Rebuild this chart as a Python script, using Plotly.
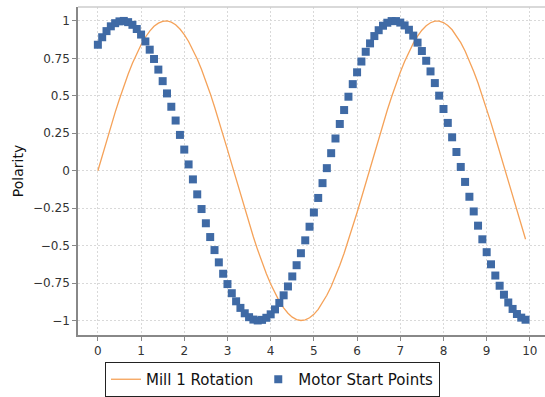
import plotly.graph_objects as go

x_vals = [round(i * 0.1, 1) for i in range(100)]

mill_rotation = [
    0.000, 0.100, 0.199, 0.296, 0.389, 0.479, 0.565, 0.644, 0.717, 0.783,
    0.841, 0.891, 0.932, 0.964, 0.985, 0.997, 1.000, 0.992, 0.974, 0.946,
    0.909, 0.863, 0.808, 0.746, 0.675, 0.598, 0.516, 0.427, 0.335, 0.239,
    0.141, 0.042, -0.058, -0.158, -0.256, -0.351, -0.443, -0.530, -0.612, -0.688,
    -0.757, -0.818, -0.872, -0.916, -0.952, -0.978, -0.994, -1.000, -0.996, -0.982,
    -0.959, -0.926, -0.883, -0.832, -0.773, -0.706, -0.631, -0.551, -0.465, -0.374,
    -0.279, -0.182, -0.083, 0.017, 0.117, 0.215, 0.312, 0.405, 0.494, 0.578,
    0.657, 0.729, 0.794, 0.850, 0.899, 0.938, 0.968, 0.988, 0.999, 0.999,
    0.989, 0.970, 0.941, 0.902, 0.855, 0.799, 0.734, 0.663, 0.585, 0.501,
    0.412, 0.319, 0.223, 0.125, 0.025, -0.075, -0.174, -0.272, -0.367, -0.458,
]

motor_start = [
    0.841, 0.891, 0.932, 0.964, 0.985, 0.997, 1.000, 0.992, 0.974, 0.946,
    0.909, 0.863, 0.808, 0.746, 0.675, 0.598, 0.516, 0.427, 0.335, 0.239,
    0.141, 0.042, -0.058, -0.158, -0.256, -0.351, -0.443, -0.530, -0.612, -0.688,
    -0.757, -0.818, -0.872, -0.916, -0.952, -0.978, -0.994, -1.000, -0.996, -0.982,
    -0.959, -0.926, -0.883, -0.832, -0.773, -0.706, -0.631, -0.551, -0.465, -0.374,
    -0.279, -0.182, -0.083, 0.017, 0.117, 0.215, 0.312, 0.405, 0.494, 0.578,
    0.657, 0.729, 0.794, 0.850, 0.899, 0.938, 0.968, 0.988, 0.999, 0.999,
    0.989, 0.970, 0.941, 0.902, 0.855, 0.799, 0.734, 0.663, 0.585, 0.501,
    0.412, 0.319, 0.223, 0.125, 0.025, -0.075, -0.174, -0.272, -0.367, -0.458,
    -0.544, -0.625, -0.700, -0.768, -0.828, -0.880, -0.923, -0.957, -0.981, -0.995,
]

x_ticks = list(range(0, 11))
y_ticks = [-1, -0.75, -0.5, -0.25, 0, 0.25, 0.5, 0.75, 1]
y_tick_text = ["\u22121", "\u22120.75", "\u22120.5", "\u22120.25", "0", "0.25", "0.5", "0.75", "1"]

fig = go.Figure()
fig.add_trace(go.Scatter(
    x=x_vals, y=mill_rotation, mode="lines", name="Mill 1 Rotation",
    line=dict(color="#f5a259", width=1.3),
))
fig.add_trace(go.Scatter(
    x=x_vals, y=motor_start, mode="markers", name="Motor Start Points",
    marker=dict(symbol="square", size=8, color="#3f6aa5", line=dict(width=0)),
))

font_family = "DejaVu Sans, Lucida Grande, sans-serif"
fig.update_layout(
    width=545, height=397,
    margin=dict(l=78, r=0, t=7, b=62, autoexpand=False),
    paper_bgcolor="white", plot_bgcolor="white",
    font=dict(family=font_family, size=12, color="#333333"),
    showlegend=True,
    legend=dict(
        orientation="h", xref="container", yref="container",
        x=0.5, xanchor="center", y=1 - 362 / 397, yanchor="top",
        bordercolor="#222222", borderwidth=1, bgcolor="white",
        font=dict(size=15, color="#111111"),
        itemwidth=30, tracegroupgap=0,
    ),
    xaxis=dict(
        range=[-0.46, 10.35], tickvals=x_ticks, ticks="outside", ticklen=4,
        tickcolor="#888888", showline=True, linecolor="#888888", linewidth=1.5,
        showgrid=True, gridcolor="#d9d9d9", griddash="2px,2px", gridwidth=1,
        zeroline=False, automargin=False, tickfont=dict(size=12, color="#333333"),
    ),
    yaxis=dict(
        range=[-1.097, 1.093], tickvals=y_ticks, ticktext=y_tick_text,
        ticks="outside", ticklen=4, tickcolor="#888888",
        showline=True, linecolor="#888888", linewidth=1.5,
        showgrid=True, gridcolor="#d9d9d9", griddash="2px,2px", gridwidth=1,
        zeroline=False, automargin=False, tickfont=dict(size=12, color="#333333"),
        title=dict(text="Polarity", font=dict(size=14, color="#111111"), standoff=6),
    ),
    shapes=[dict(type="line", xref="paper", yref="paper", x0=0, x1=1, y0=1, y1=1,
                 line=dict(color="#cccccc", width=1.5))],
)

fig.write_html(
    "out.html",
    config={"displayModeBar": False},
    post_script="document.body.style.margin='0';document.body.style.overflow='hidden';",
)
